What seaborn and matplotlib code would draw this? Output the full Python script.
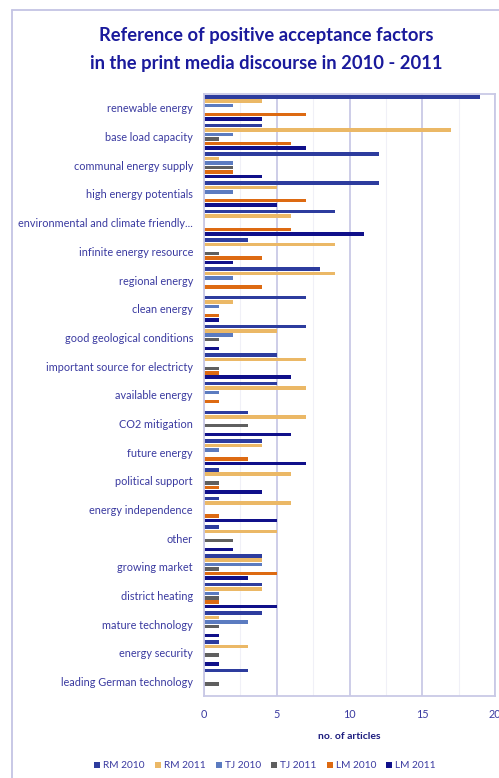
import matplotlib
matplotlib.use("Agg")
import matplotlib.pyplot as plt
import seaborn as sns
import pandas as pd
from matplotlib.lines import Line2D
from matplotlib.patches import Patch
from matplotlib.ticker import MultipleLocator

categories = ["renewable energy", "base load capacity", "communal energy supply",
              "high energy potentials", "environmental and climate friendly...",
              "infinite energy resource", "regional energy", "clean energy",
              "good geological conditions", "important source for electricty",
              "available energy", "CO2 mitigation", "future energy", "political support",
              "energy independence", "other", "growing market", "district heating",
              "mature technology", "energy security", "leading German technology"]

series = ["RM 2010", "RM 2011", "TJ 2010", "TJ 2011", "LM 2010", "LM 2011"]
rm_2010 = [19, 4, 12, 12, 9, 3, 8, 7, 7, 5, 5, 3, 4, 1, 1, 1, 4, 4, 4, 1, 3]
rm_2011 = [4, 17, 1, 5, 6, 9, 9, 2, 5, 7, 7, 7, 4, 6, 6, 5, 4, 4, 1, 3, 0]
tj_2010 = [2, 2, 2, 2, 0, 0, 2, 1, 2, 0, 1, 0, 1, 0, 0, 0, 4, 1, 3, 0, 0]
tj_2011 = [0, 1, 2, 0, 0, 1, 0, 0, 1, 1, 0, 3, 0, 1, 0, 2, 1, 1, 1, 1, 1]
lm_2010 = [7, 6, 2, 7, 6, 4, 4, 1, 0, 1, 1, 0, 3, 1, 1, 0, 5, 1, 0, 0, 0]
lm_2011 = [4, 7, 4, 5, 11, 2, 0, 1, 1, 6, 0, 6, 7, 4, 5, 2, 3, 5, 1, 1, 0]

colors = ["#2d3c9e", "#ebb866", "#5b7bc0", "#5f5f5f", "#dd6a12", "#10108a"]

values = [rm_2010, rm_2011, tj_2010, tj_2011, lm_2010, lm_2011]
rows = []
for s, vals in zip(series, values):
    for c, v in zip(categories, vals):
        rows.append({"category": c, "series": s, "value": v})
df = pd.DataFrame(rows)

sns.set_theme(style="white")
plt.rcParams["font.family"] = ["Lato", "DejaVu Sans"]

fig = plt.figure(figsize=(4.99, 7.78), dpi=100)
ax = fig.add_axes([204 / 499, 1 - 696 / 778, (495 - 204) / 499, (696 - 93.6) / 778])

sns.barplot(data=df, y="category", x="value", hue="series", order=categories,
            hue_order=series, palette=colors, saturation=1, orient="h", width=0.93,
            gap=0.2, ax=ax, legend=False, linewidth=0)

ax.set_xlim(0, 20)
ax.xaxis.set_major_locator(MultipleLocator(5))
ax.xaxis.set_minor_locator(MultipleLocator(2.5))
ax.grid(axis="x", which="major", color="#c9c9e6", linewidth=1.3)
ax.grid(axis="x", which="minor", color="#f0f0f7", linewidth=0.8)
ax.set_axisbelow(True)
for sp in ax.spines.values():
    sp.set_visible(True)
    sp.set_color("#c9c9e6")
    sp.set_linewidth(1.3)

ax.set_ylabel("")
ax.set_xlabel("no. of articles", fontsize=7.5, fontweight="bold", color="#1c1c7e", labelpad=9)
ax.tick_params(axis="y", length=0, pad=8, labelsize=7.8, labelcolor="#3a3aa0")
ax.tick_params(axis="x", length=0, pad=9, labelsize=7.8, labelcolor="#3a3aa0")

fig.text(266 / 499, 1 - 36 / 778, "Reference of positive acceptance factors",
         ha="center", va="center", fontsize=13.2, fontweight="bold", color="#1a1a9c")
fig.text(266 / 499, 1 - 64 / 778, "in the print media discourse in 2010 - 2011",
         ha="center", va="center", fontsize=13.2, fontweight="bold", color="#1a1a9c")

handles = [Patch(facecolor=c, edgecolor="none") for c in colors]
fig.legend(handles, series, loc="center", bbox_to_anchor=(265 / 499, 1 - 766 / 778),
           ncol=6, frameon=False, fontsize=7.3, handlelength=0.6, handleheight=0.6,
           handletextpad=0.3, columnspacing=1.0, labelcolor="#3a3aa0")

fig.add_artist(Line2D([12 / 499, 12 / 499], [0, 1 - 10 / 778], transform=fig.transFigure,
                      color="#c4c4e4", linewidth=1.3))
fig.add_artist(Line2D([12 / 499, 1], [1 - 10 / 778, 1 - 10 / 778], transform=fig.transFigure,
                      color="#c4c4e4", linewidth=1.3))

fig.savefig("out.png", dpi=100)
